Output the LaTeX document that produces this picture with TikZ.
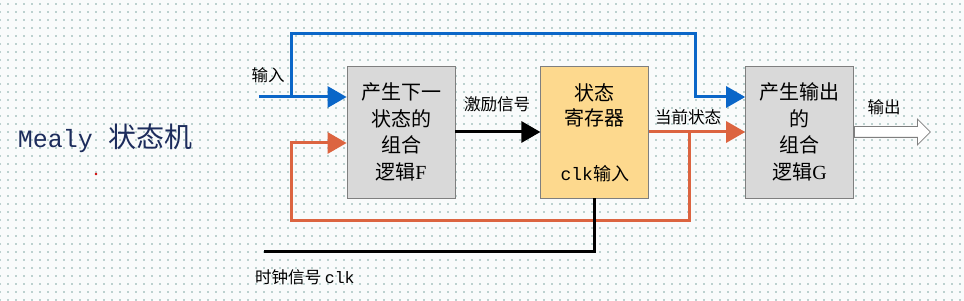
\documentclass[tikz,border=0pt]{standalone}
\usepackage{fontspec}
\setmainfont{Liberation Serif}
\setmonofont{Liberation Mono}
\newfontfamily\cjk{Noto Sans CJK SC}
\usetikzlibrary{positioning,arrows.meta,patterns.meta,shapes.arrows}
\definecolor{MealyBlue}{HTML}{0A66C8}
\definecolor{MealyRed}{HTML}{DC6440}
\definecolor{MealyGray}{HTML}{D9D9D9}
\definecolor{MealyEdge}{HTML}{7F7F7F}
\definecolor{MealyOrange}{HTML}{FDD98E}
\definecolor{MealyTitle}{HTML}{1C2C5C}
\definecolor{MealyDots}{HTML}{7FA6A3}
\definecolor{MealyPaper}{HTML}{F9FBFB}

\begin{document}
\begin{tikzpicture}[x=1pt,y=1pt,
    logicbox/.style={draw=MealyEdge,thick,fill=MealyGray,minimum width=108pt,
      minimum height=132pt,align=center,inner sep=0pt,
      font=\fontsize{20}{26.5}\selectfont},
    regbox/.style={logicbox,fill=MealyOrange},
    sig/.style={line width=3pt,-{Triangle[length=19pt,width=21pt]}},
    wire/.style={line width=3pt},
    tag/.style={font=\cjk\fontsize{16.5}{18}\selectfont,inner sep=1pt}
  ]
    % background
    \fill[MealyPaper] (0,0) rectangle (964,300);
    \fill[pattern={Dots[distance=8pt,radius=0.8pt]},pattern color=MealyDots]
      (0,0) rectangle (964,300);
    \useasboundingbox (0,0) rectangle (964,300);

    \node[text=MealyTitle] (title) at (105,162)
      {\fontsize{25}{30}\selectfont\ttfamily Mealy {\cjk\fontsize{28}{30}\selectfont 状态机}};
    \fill[red!80!black] (96,126) circle (1.3pt);

    \node[logicbox] (F) at (401,168) {{\cjk 产生下一}\\{\cjk 状态的}\\{\cjk 组合}\\{\cjk 逻辑}F};
    \node[regbox,right=85pt of F] (R) {};
    \node[font=\cjk\fontsize{20}{25}\selectfont,align=center] (Rtxt)
      at ([yshift=-40pt]R.north) {状态\\寄存器};
    \node[font=\fontsize{18}{20}\selectfont] (Rclk) at ([yshift=25pt]R.south)
      {\ttfamily clk{\cjk 输入}};
    \node[logicbox,right=96pt of R] (G) {{\cjk 产生输出}\\{\cjk 的}\\{\cjk 组合}\\{\cjk 逻辑}G};

    \coordinate (inStart) at (259,203);
    \coordinate (clkStart) at (264,48);

    % input (blue)
    \draw[sig,MealyBlue] (inStart) -- (F.west |- inStart);
    \draw[sig,MealyBlue] (291,203) -- (291,266) -- (695,266) -- (695,203) -- (G.west |- inStart);
    % excitation
    \draw[sig,black] (F.east) -- (R.west);
    % current state (red)
    \draw[sig,MealyRed] (R.east) -- (G.west);
    \draw[sig,MealyRed] (689,168) -- (689,79) -- (291,79) -- (291,157) -- ([yshift=-11pt]F.west);
    % clock
    \draw[wire,black] (clkStart) -- (clkStart -| R.south) -- (R.south);
    % output
    \node[single arrow,draw=MealyEdge,thick,fill=white,inner sep=5pt,
      single arrow head extend=7.5pt,minimum height=76pt,anchor=tail] (out) at (G.east) {};

    \node[tag] (lIn) at (268,225) {输入};
    \node[tag] (lExc) at (497,196) {激励信号};
    \node[tag] (lCur) at (688,183) {当前状态};
    \node[tag] (lOut) at (884,193) {输出};
    \node[tag,anchor=west] (lClk) at (254,23) {时钟信号 {\ttfamily clk}};
  \end{tikzpicture}
\end{document}
